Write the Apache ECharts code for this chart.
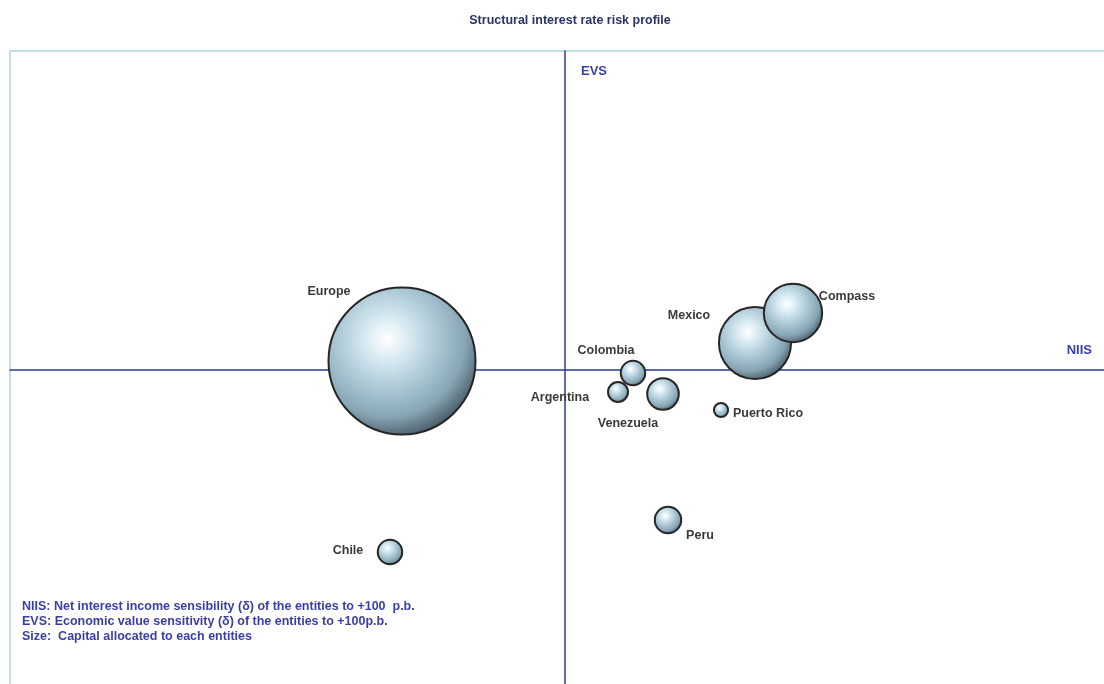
<!DOCTYPE html>
<html>
<head>
<meta charset="utf-8">
<script src="https://cdn.jsdelivr.net/npm/echarts@6/dist/echarts.min.js"></script>
<style>
  html, body { margin: 0; padding: 0; background: #fff; }
  #main { width: 1104px; height: 684px; }
</style>
</head>
<body>
<div id="main"></div>
<script>
var entities = ['Europe', 'Chile', 'Argentina', 'Colombia', 'Venezuela', 'Puerto Rico', 'Peru', 'Mexico', 'Compass'];
// NIIS (x) and EVS (y) sensitivities, capital allocated (bubble area)
var niis = [-1.63, -1.75, 0.53, 0.68, 0.98, 1.56, 1.03, 1.90, 2.28];
var evs = [0.09, -1.82, -0.22, -0.03, -0.24, -0.40, -1.50, 0.27, 0.57];
var capital = [216, 6, 4, 6, 10, 2, 7, 52, 34];

var notes = [
    'NIIS: Net interest income sensibility (δ) of the entities to +100  p.b.',
    'EVS: Economic value sensitivity (δ) of the entities to +100p.b.',
    'Size:  Capital allocated to each entities'
];

// where each name sits relative to its bubble centre
var labelOffsets = {
    'Europe': [-73, -69],
    'Chile': [-42, -1],
    'Argentina': [-58, 6],
    'Colombia': [-27, -22],
    'Venezuela': [-35, 30],
    'Puerto Rico': [47, 4],
    'Peru': [32, 16],
    'Mexico': [-66, -27],
    'Compass': [54, -16]
};

var myChart = echarts.init(document.getElementById('main'));

var bubbleFill = {
    type: 'radial', x: 0.4, y: 0.35, r: 0.7,
    colorStops: [
        { offset: 0, color: '#ffffff' },
        { offset: 0.15, color: '#e3f1f7' },
        { offset: 0.45, color: '#b0ccd9' },
        { offset: 0.75, color: '#88a5b4' },
        { offset: 1, color: '#3f515b' }
    ]
};

var seriesData = entities.map(function (name, i) {
    return {
        name: name,
        value: [niis[i], evs[i], capital[i]],
        label: { offset: labelOffsets[name] }
    };
});

option = {
    title: {
        text: 'Structural interest rate risk profile',
        left: 565,
        top: 9,
        textAlign: 'center',
        textStyle: {
            fontFamily: 'Liberation Sans',
            fontSize: 12.5,
            fontWeight: 'bold',
            color: '#2b3366'
        }
    },
    grid: {
        left: 10,
        top: 51,
        right: 0,
        bottom: 0,
        show: false
    },
    xAxis: {
        type: 'value',
        min: -5.55,
        max: 5.39,
        name: 'NIIS',
        nameLocation: 'end',
        nameGap: -12,
        nameTextStyle: {
            fontFamily: 'Liberation Sans',
            fontSize: 13,
            fontWeight: 'bold',
            color: '#3a3fa6',
            align: 'right',
            verticalAlign: 'bottom',
            padding: [0, 0, 13, 0]
        },
        axisLine: { onZero: true, lineStyle: { color: '#2d3c8a', width: 1.5 } },
        axisTick: { show: false },
        axisLabel: { show: false },
        splitLine: { show: false }
    },
    yAxis: {
        type: 'value',
        min: -3.14,
        max: 3.19,
        name: 'EVS',
        nameLocation: 'end',
        nameGap: -20,
        nameTextStyle: {
            fontFamily: 'Liberation Sans',
            fontSize: 13,
            fontWeight: 'bold',
            color: '#3a3fa6',
            align: 'left',
            verticalAlign: 'middle',
            padding: [0, 0, 0, 16]
        },
        axisLine: { onZero: true, lineStyle: { color: '#2d3c8a', width: 1.5 } },
        axisTick: { show: false },
        axisLabel: { show: false },
        splitLine: { show: false }
    },
    graphic: [{
        type: 'rect',
        silent: true,
        z: -1,
        shape: { x: 10, y: 51, width: 1200, height: 700 },
        style: { fill: 'none', stroke: '#c4dce7', lineWidth: 2 }
    }, {
        type: 'text',
        left: 22,
        top: 599,
        style: {
            text: notes.join('\n'),
            font: 'bold 12.5px "Liberation Sans"',
            lineHeight: 15,
            fill: '#3a3fa6'
        }
    }],
    series: [{
        name: 'Entities',
        type: 'scatter',
        data: seriesData,
        symbolSize: function (val) {
            return Math.sqrt(val[2]) * 10;
        },
        itemStyle: {
            color: bubbleFill,
            borderColor: '#262626',
            borderWidth: 2,
            opacity: 1
        },
        label: {
            show: true,
            position: 'inside',
            formatter: '{b}',
            fontFamily: 'Liberation Sans',
            fontSize: 12.5,
            fontWeight: 'bold',
            color: '#3a3a3a'
        },
        emphasis: { disabled: true }
    }]
};

myChart.setOption(option);
</script>
</body>
</html>
